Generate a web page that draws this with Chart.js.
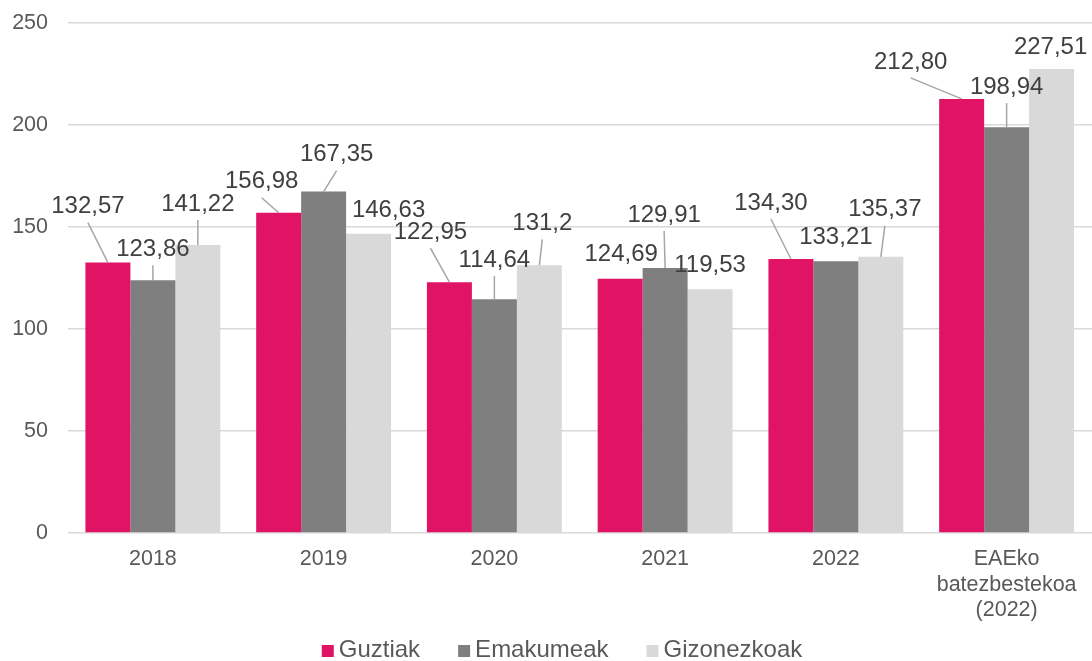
<!DOCTYPE html>
<html>
<head>
<meta charset="utf-8">
<script src="https://cdn.jsdelivr.net/npm/chart.js@4/dist/chart.umd.min.js"></script>
<style>
  html, body { margin: 0; padding: 0; background: #ffffff; }
  #wrap { width: 1092px; height: 661px; }
</style>
</head>
<body>
<div id="wrap"><canvas id="c" width="1092" height="661"></canvas></div>
<script>
// ---- data ----
const categories = ['2018', '2019', '2020', '2021', '2022', ['EAEko', 'batezbestekoa', '(2022)']];
const seriesNames = ['Guztiak', 'Emakumeak', 'Gizonezkoak'];
const guztiak = [132.57, 156.98, 122.95, 124.69, 134.30, 212.80];
const emakumeak = [123.86, 167.35, 114.64, 129.91, 133.21, 198.94];
const gizonezkoak = [141.22, 146.63, 131.2, 119.53, 135.37, 227.51];
const guztiakText = ['132,57', '156,98', '122,95', '124,69', '134,30', '212,80'];
const emakumeakText = ['123,86', '167,35', '114,64', '129,91', '133,21', '198,94'];
const gizonezkoakText = ['141,22', '146,63', '131,2', '119,53', '135,37', '227,51'];
const yTicks = [0, 50, 100, 150, 200, 250];

// ---- styling / layout ----
const colors = ['#E01364', '#7F7F7F', '#D9D9D9'];
const FONT = '"Liberation Sans", Arial, sans-serif';
// label placement relative to the top-centre of each bar (pixels)
const labelOffsets = [
  [[-20, -56], [-17, -31], [-19, -50], [1, -24], [-20, -56], [-51, -37]],
  [[0, -31], [13, -37], [0, -39], [-1, -53], [0, -24], [0, -40]],
  [[0, -41], [20, -23], [3, -42], [0, -24], [4, -47], [-1, -22]]
];
const labelTexts = [guztiakText, emakumeakText, gizonezkoakText];

const valueLabels = {
  id: 'valueLabels',
  afterDatasetsDraw(chart) {
    const ctx = chart.ctx;
    ctx.save();
    ctx.font = '24px ' + FONT;
    ctx.textAlign = 'center';
    ctx.textBaseline = 'middle';
    chart.data.datasets.forEach((ds, di) => {
      const meta = chart.getDatasetMeta(di);
      meta.data.forEach((bar, i) => {
        const [dx, dy] = labelOffsets[di][i];
        const lx = bar.x + dx, ly = bar.y + dy;
        if (dy < -27) {
          ctx.strokeStyle = '#A6A6A6';
          ctx.lineWidth = 1.5;
          ctx.beginPath();
          ctx.moveTo(lx, ly + 16);
          ctx.lineTo(bar.x, bar.y);
          ctx.stroke();
        }
        ctx.fillStyle = '#404040';
        ctx.fillText(labelTexts[di][i], lx, ly);
      });
    });
    ctx.restore();
  }
};

const customLegend = {
  id: 'customLegend',
  afterDraw(chart) {
    const ctx = chart.ctx;
    ctx.save();
    ctx.font = '24px ' + FONT;
    ctx.textBaseline = 'middle';
    ctx.textAlign = 'left';
    const box = 12, gap = 5, spacing = 38;
    const widths = seriesNames.map(n => box + gap + ctx.measureText(n).width);
    const total = widths.reduce((a, b) => a + b, 0) + spacing * (widths.length - 1);
    let x = 562 - total / 2;
    const cy = 650;
    seriesNames.forEach((n, i) => {
      ctx.fillStyle = colors[i];
      ctx.fillRect(x, cy - 5, box, box);
      ctx.fillStyle = '#595959';
      ctx.fillText(n, x + box + gap, cy);
      x += widths[i] + spacing;
    });
    ctx.restore();
  }
};

const seriesData = [guztiak, emakumeak, gizonezkoak];

new Chart(document.getElementById('c'), {
  type: 'bar',
  data: {
    labels: categories,
    datasets: seriesNames.map((name, i) => ({
      label: name,
      data: seriesData[i],
      backgroundColor: colors[i],
      borderWidth: 0,
      categoryPercentage: 0.79,
      barPercentage: 1.0
    }))
  },
  options: {
    responsive: false,
    animation: false,
    devicePixelRatio: 1,
    layout: { padding: { top: 23, left: 0, right: 0, bottom: 0 } },
    plugins: {
      legend: { display: false },
      tooltip: { enabled: false }
    },
    scales: {
      x: {
        grid: { display: false, drawTicks: false },
        border: { display: false },
        ticks: {
          color: '#595959',
          font: { family: FONT, size: 21.5, lineHeight: 1.17 },
          padding: 14,
          maxRotation: 0,
          autoSkip: false
        },
        afterFit(scale) { scale.height = 128; scale.paddingLeft = 0; scale.paddingRight = 0; }
      },
      y: {
        min: 0,
        max: 250,
        afterBuildTicks(scale) { scale.ticks = yTicks.map(v => ({ value: v })); },
        grid: { color: '#D9D9D9', lineWidth: 1.5, drawTicks: false },
        border: { display: false },
        ticks: {
          color: '#595959',
          font: { family: FONT, size: 21.5 },
          padding: 19.5
        },
        afterFit(scale) { scale.width = 67.5; scale.paddingTop = 0; scale.paddingBottom = 0; }
      }
    }
  },
  plugins: [valueLabels, customLegend]
});
</script>
</body>
</html>
